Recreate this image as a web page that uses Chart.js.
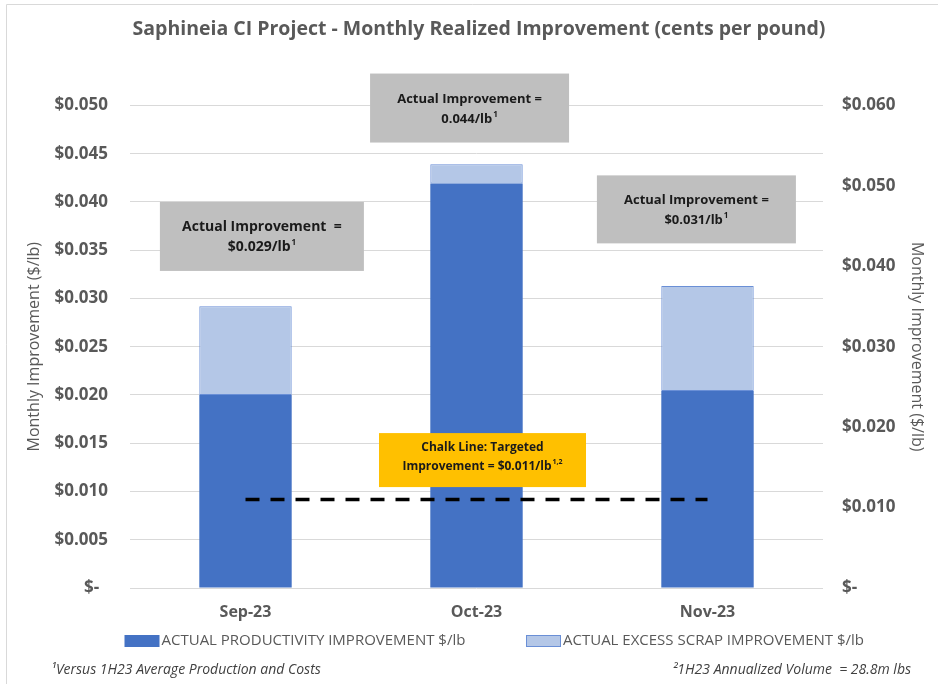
<!DOCTYPE html>
<html>
<head>
<meta charset="utf-8">
<script src="https://cdn.jsdelivr.net/npm/chart.js@4"></script>
<style>
  html, body { margin: 0; padding: 0; background: #fff; }
  #wrap { width: 938px; height: 684px; position: relative; }
</style>
</head>
<body>
<div id="wrap"><canvas id="mychart1"></canvas></div>
<script>
const months = ["Sep-23", "Oct-23", "Nov-23"];
const productivity = [0.0200, 0.0419, 0.0204];
const excessScrap = [0.0092, 0.0020, 0.0109];
const chalkLine = [0.011, 0.011, 0.011];
const leftTicks = [0, 0.005, 0.01, 0.015, 0.02, 0.025, 0.03, 0.035, 0.04, 0.045, 0.05];
const rightTicks = [0, 0.01, 0.02, 0.03, 0.04, 0.05, 0.06];

const grey = "#595959";
const font = "'Open Sans', 'Liberation Sans', sans-serif";

const money = (v) => (v === 0 ? "$-  " : "$" + v.toFixed(3));

// callout boxes, anchored to category index / left-axis value
const callouts = [
  { x: 0.071, y: 0.0400, w: 204, h: 69, fill: "#BFBFBF", size: 14, gap: 20, dy: 1,
    lines: [["Actual Improvement  =", ""], ["$0.029/lb", "1"]] },
  { x: 0.970, y: 0.0533, w: 199, h: 69, fill: "#BFBFBF", size: 13, gap: 20, dy: 1,
    lines: [["Actual Improvement =", ""], ["0.044/lb", "1"]] },
  { x: 1.952, y: 0.04275, w: 199, h: 68, fill: "#BFBFBF", size: 13, gap: 20, dy: 1,
    lines: [["Actual Improvement =", ""], ["$0.031/lb", "1"]] },
  { x: 1.026, y: 0.01605, w: 207, h: 54, fill: "#FFC000", size: 12, gap: 19, dy: -3,
    lines: [["Chalk Line: Targeted", ""], ["Improvement = $0.011/lb", "1,2"]] },
];

// text with an optional superscript, centred on cx
function supText(ctx, main, sup, cx, y, size) {
  ctx.font = "bold " + size + "px " + font;
  const w1 = ctx.measureText(main).width;
  ctx.font = "bold " + Math.round(size * 0.6) + "px " + font;
  const w2 = sup ? ctx.measureText(sup).width + 1 : 0;
  const x0 = cx - (w1 + w2) / 2;
  ctx.textAlign = "left";
  ctx.font = "bold " + size + "px " + font;
  ctx.fillText(main, x0, y);
  if (sup) {
    ctx.font = "bold " + Math.round(size * 0.6) + "px " + font;
    ctx.fillText(sup, x0 + w1 + 1, y - size * 0.35);
  }
}

const calloutPlugin = {
  id: "callouts",
  afterDatasetsDraw(chart) {
    const { ctx, scales } = chart;
    ctx.save();
    callouts.forEach((c) => {
      const cx = scales.x.getPixelForValue(c.x);
      const top = scales.y.getPixelForValue(c.y);
      ctx.fillStyle = c.fill;
      ctx.fillRect(cx - c.w / 2, top, c.w, c.h);
      ctx.fillStyle = "#1a1a1a";
      ctx.textBaseline = "middle";
      const mid = top + c.h / 2 + c.dy;
      supText(ctx, c.lines[0][0], c.lines[0][1], cx, mid - c.gap / 2, c.size);
      supText(ctx, c.lines[1][0], c.lines[1][1], cx, mid + c.gap / 2, c.size);
    });
    ctx.restore();
  },
  afterDraw(chart) {
    const ctx = chart.ctx;
    ctx.save();
    ctx.strokeStyle = "#D9D9D9";
    ctx.lineWidth = 1;
    ctx.beginPath();
    ctx.moveTo(6.5, 684);
    ctx.lineTo(6.5, 4.5);
    ctx.lineTo(938, 4.5);
    ctx.stroke();

    // legend for the two bar series
    const legendX = [124.5, 526];
    const legendY = 641;
    [1, 2].forEach((di, k) => {
      const ds = chart.data.datasets[di];
      const x = legendX[k];
      ctx.fillStyle = ds.backgroundColor;
      ctx.fillRect(x, legendY - 6, 35, 12);
      if (ds.borderWidth) {
        ctx.strokeStyle = ds.borderColor;
        ctx.lineWidth = 1;
        ctx.strokeRect(x + 0.5, legendY - 5.5, 34, 11);
      }
      ctx.fillStyle = grey;
      ctx.font = "15px " + font;
      ctx.textAlign = "left";
      ctx.textBaseline = "middle";
      ctx.fillText(ds.label, x + 37, legendY);
    });

    ctx.fillStyle = "#404040";
    ctx.font = "italic 14px " + font;
    ctx.textBaseline = "middle";
    ctx.textAlign = "left";
    ctx.fillText("\u00B9Versus 1H23 Average Production and Costs", 51, 670);
    ctx.textAlign = "right";
    ctx.fillText("\u00B21H23 Annualized Volume  = 28.8m lbs", 911, 670);
    ctx.restore();
  },
};

new Chart(document.getElementById("mychart1").getContext("2d"), {
  data: {
    labels: months,
    datasets: [
      {
        type: "line",
        label: "Chalk Line",
        data: chalkLine,
        yAxisID: "y2",
        borderColor: "#000",
        borderWidth: 3.5,
        borderDash: [14, 11],
        pointRadius: 0,
        fill: false,
        order: 0,
      },
      {
        type: "bar",
        label: "ACTUAL PRODUCTIVITY IMPROVEMENT $/lb",
        data: productivity,
        backgroundColor: "#4472C4",
        borderWidth: 0,
        stack: "s",
        order: 1,
      },
      {
        type: "bar",
        label: "ACTUAL EXCESS SCRAP IMPROVEMENT $/lb",
        data: excessScrap,
        backgroundColor: "#B4C7E7",
        borderColor: "#6A8FD6",
        borderWidth: 1,
        borderSkipped: false,
        stack: "s",
        order: 1,
      },
    ],
  },
  options: {
    responsive: true,
    maintainAspectRatio: false,
    animation: false,
    layout: { padding: { top: 0, left: 20, right: 0, bottom: 56 } },
    datasets: { bar: { categoryPercentage: 1, barPercentage: 0.4 } },
    plugins: {
      title: {
        display: true,
        text: "Saphineia CI Project - Monthly Realized Improvement (cents per pound)",
        color: grey,
        font: { family: font, size: 19.5, weight: "bold" },
        padding: { top: 18, bottom: 64 },
      },
      legend: { display: false },
      tooltip: { enabled: false },
    },
    scales: {
      x: {
        stacked: true,
        grid: { display: false },
        border: { display: false },
        ticks: { color: grey, padding: 7, font: { family: font, size: 16, weight: "bold" } },
        afterFit: (s) => { s.height = 40; },
      },
      y: {
        stacked: true,
        position: "left",
        min: 0,
        max: 0.05,
        afterBuildTicks: (s) => { s.ticks = leftTicks.map((v) => ({ value: v })); },
        grid: { color: "#D9D9D9", drawTicks: false },
        border: { display: false },
        ticks: { color: grey, padding: 22, callback: money, font: { family: font, size: 17, weight: "bold" } },
        title: {
          display: true,
          text: "Monthly Improvement ($/lb)",
          color: grey,
          padding: { top: 5 },
          font: { family: font, size: 16 },
        },
        afterFit: (s) => { s.width = 110; },
      },
      y2: {
        position: "right",
        min: 0,
        max: 0.06,
        afterBuildTicks: (s) => { s.ticks = rightTicks.map((v) => ({ value: v })); },
        grid: { display: false, drawTicks: false },
        border: { display: false },
        ticks: { color: grey, padding: 19, callback: money, font: { family: font, size: 17, weight: "bold" } },
        title: {
          display: true,
          text: "Monthly Improvement ($/lb)",
          color: grey,
          padding: { top: 12 },
          font: { family: font, size: 16 },
        },
        afterFit: (s) => { s.width = 115; },
      },
    },
  },
  plugins: [calloutPlugin],
});
</script>
</body>
</html>
